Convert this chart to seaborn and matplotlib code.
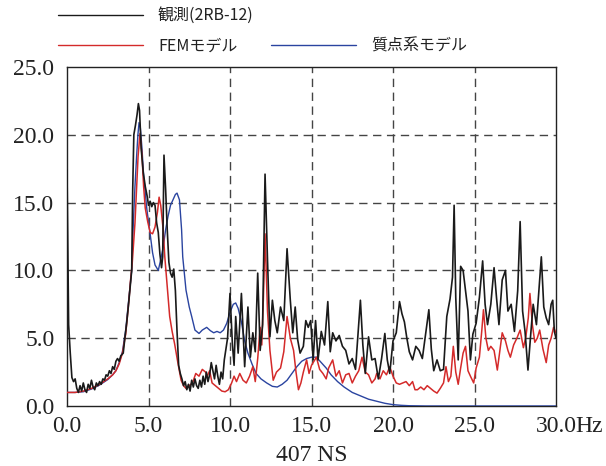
import matplotlib
matplotlib.use("Agg")
import matplotlib.pyplot as plt
from matplotlib.lines import Line2D
import seaborn as sns
import pandas as pd

# ---------------- data ----------------
obs_f = [0.0, 0.05, 0.1, 0.2, 0.3, 0.4, 0.5, 0.6, 0.7, 0.8, 0.9, 1.0, 1.1, 1.2, 1.3, 1.4, 1.5, 1.6,
         1.7, 1.8, 1.9, 2.0, 2.1, 2.2, 2.3, 2.4, 2.5, 2.6, 2.7, 2.8, 2.9, 3.0, 3.1, 3.2, 3.3, 3.45,
         3.55, 3.66, 3.76, 3.86, 3.97, 4.03, 4.1, 4.2, 4.3, 4.38, 4.45, 4.55, 4.68, 4.8, 4.93, 5.0,
         5.1, 5.2, 5.3, 5.4, 5.5, 5.6, 5.7, 5.8, 5.87, 5.95, 6.05, 6.15, 6.25, 6.35, 6.45, 6.55,
         6.65, 6.75, 6.85, 6.95, 7.05, 7.15, 7.25, 7.35, 7.45, 7.55, 7.65, 7.75, 7.85, 7.95, 8.05,
         8.15, 8.25, 8.35, 8.45, 8.55, 8.65, 8.75, 8.85, 8.95, 9.05, 9.15, 9.25, 9.35, 9.45, 9.55,
         9.65, 9.75, 9.85, 10.0, 10.15, 10.25, 10.35, 10.5, 10.7, 10.9, 11.1, 11.25, 11.4, 11.55,
         11.7, 11.85, 12.0, 12.15, 12.3, 12.45, 12.6, 12.75, 12.9, 13.1, 13.3, 13.5, 13.7, 13.85,
         14.0, 14.15, 14.3, 14.5, 14.65, 14.8, 14.95, 15.1, 15.25, 15.4, 15.6, 15.8, 16.0, 16.15,
         16.3, 16.5, 16.7, 16.9, 17.1, 17.3, 17.5, 17.7, 18.0, 18.15, 18.3, 18.5, 18.7, 18.9, 19.1,
         19.3, 19.5, 19.65, 19.8, 20.0, 20.2, 20.4, 20.55, 20.7, 20.85, 21.0, 21.2, 21.4, 21.6,
         21.8, 22.0, 22.2, 22.35, 22.5, 22.7, 22.9, 23.1, 23.3, 23.5, 23.65, 23.75, 23.85, 24.0,
         24.15, 24.3, 24.45, 24.6, 24.75, 24.9, 25.1, 25.3, 25.5, 25.65, 25.8, 26.0, 26.2, 26.35,
         26.5, 26.7, 26.9, 27.05, 27.25, 27.45, 27.65, 27.8, 27.95, 28.1, 28.28, 28.45, 28.6, 28.8,
         28.95, 29.1, 29.25, 29.4, 29.55, 29.7, 29.8, 29.9, 30.0]
obs_v = [17.4, 12.0, 6.0, 3.9, 2.1, 1.8, 2.0, 1.3, 1.0, 1.5, 1.1, 1.7, 1.2, 1.0, 1.6, 1.3, 1.9, 1.4,
         1.2, 1.7, 1.5, 1.8, 1.6, 2.0, 1.9, 2.3, 2.2, 2.6, 2.4, 2.9, 2.7, 3.3, 3.5, 3.3, 3.7, 3.9,
         5.0, 6.1, 7.3, 8.6, 10.0, 15.9, 20.0, 20.7, 21.5, 22.3, 21.8, 19.0, 17.2, 16.2, 15.4, 14.8,
         15.1, 14.7, 15.0, 14.8, 13.5, 12.8, 11.2, 10.2, 11.0, 18.5, 16.0, 13.0, 10.6, 9.8, 9.5, 10.1,
         8.5, 5.5, 3.0, 2.4, 2.0, 1.5, 1.8, 1.2, 1.6, 1.1, 1.9, 1.4, 2.0, 1.5, 1.3,
         1.9, 1.4, 2.2, 1.6, 2.5, 1.8, 2.3, 3.2, 2.6, 2.0, 3.0, 2.2, 1.6, 2.5, 2.0,
         3.4, 4.2, 5.0, 8.3, 4.5, 3.0, 6.6, 3.9, 8.3, 2.9, 7.3, 3.6, 5.4, 4.0,
         9.8, 4.1, 6.0, 17.1, 10.8, 5.1, 7.8, 6.3, 5.4, 7.3, 6.3, 11.6, 7.8, 5.4,
         7.3, 4.9, 3.9, 4.4, 6.3, 5.8, 6.3, 3.4, 6.3, 3.4, 5.5, 4.5, 7.7, 4.0,
         5.4, 4.8, 5.2, 4.4, 4.1, 3.1, 3.5, 2.7, 7.8, 4.5, 2.4, 5.1, 3.4, 3.5, 2.0,
         3.5, 5.35, 3.4, 2.4, 4.8, 5.4, 7.7, 6.8, 6.2, 5.0, 4.0, 3.4, 4.4, 4.1,
         3.5, 5.3, 7.1, 4.2, 2.6, 3.4, 2.6, 2.7, 6.6, 7.9, 9.5, 14.8, 8.0, 3.4,
         10.3, 10.0, 8.5, 7.0, 3.4, 5.3, 6.1, 8.0, 10.7, 7.5, 6.0, 7.5, 10.2, 8.0,
         6.0, 9.3, 10.0, 7.0, 7.5, 5.5, 8.5, 13.6, 7.0, 5.5, 2.65, 5.3, 7.5, 6.0,
         8.5, 11.0, 7.3, 6.5, 6.0, 7.5, 7.8, 5.5, 5.0]

fem_f = [0.0, 0.5, 1.0, 1.5, 2.0, 2.5, 2.8, 3.0, 3.2, 3.4, 3.6, 3.8, 3.9, 4.0, 4.17, 4.36, 4.48,
         4.6, 4.7, 4.8, 4.95, 5.1, 5.25, 5.4, 5.55, 5.65, 5.75, 5.9, 6.0, 6.1, 6.3, 6.45, 6.6, 6.8,
         7.0, 7.15, 7.3, 7.5, 7.7, 7.9, 8.1, 8.3, 8.5, 8.6, 8.75, 8.9, 9.1, 9.3, 9.5, 9.7, 9.9,
         10.1, 10.25, 10.4, 10.6, 10.8, 11.0, 11.2, 11.4, 11.55, 11.7, 11.85, 11.95, 12.05, 12.15,
         12.3, 12.45, 12.65, 12.85, 13.1, 13.3, 13.5, 13.7, 13.9, 14.05, 14.2, 14.35, 14.5, 14.7,
         14.85, 15.0, 15.3, 15.5, 15.7, 15.9, 16.05, 16.3, 16.5, 16.7, 16.9, 17.1, 17.3, 17.5,
         17.7, 17.9, 18.1, 18.3, 18.5, 18.7, 18.9, 19.0, 19.2, 19.4, 19.6, 19.8, 20.0, 20.2, 20.4,
         20.6, 20.8, 21.0, 21.2, 21.35, 21.5, 21.7, 21.9, 22.1, 22.3, 22.5, 22.7, 22.9, 23.1,
         23.25, 23.4, 23.55, 23.7, 23.85, 24.0, 24.15, 24.3, 24.45, 24.6, 24.75, 24.95, 25.1,
         25.3, 25.45, 25.55, 25.7, 25.85, 26.0, 26.2, 26.4, 26.55, 26.7, 26.9, 27.05, 27.2, 27.4,
         27.6, 27.8, 28.0, 28.15, 28.3, 28.4, 28.55, 28.7, 28.85, 29.0, 29.2, 29.4, 29.55, 29.7,
         29.85, 30.0]
fem_v = [1.0, 1.0, 1.1, 1.3, 1.6, 2.0, 2.3, 2.6, 3.1, 3.9, 5.3, 7.8, 9.3, 10.5, 13.5, 18.4, 20.1,
         18.5, 16.2, 14.6, 13.6, 12.8, 12.7, 13.2, 14.3, 15.4, 14.8, 13.0, 11.0, 9.5, 6.6, 5.5, 4.6, 3.2,
         1.9, 1.5, 1.3, 1.5, 1.7, 2.4, 2.2, 2.7, 2.5, 2.2, 2.6, 1.7, 1.5, 1.3, 1.1, 1.05, 1.2,
         1.7, 2.2, 1.8, 2.4, 1.9, 1.7, 2.2, 2.9, 1.8, 3.5, 5.8, 4.5, 8.0, 12.7,
         7.0, 4.1, 1.9, 2.5, 2.8, 4.0, 6.6, 5.0, 4.1, 2.5, 1.2, 1.7, 2.5, 3.4,
         2.4, 3.0, 3.6, 2.7, 2.4, 2.0, 2.8, 3.4, 2.2, 2.6, 1.7, 2.3, 2.4, 1.7,
         2.2, 2.6, 3.6, 2.5, 2.3, 1.7, 2.0, 2.4, 2.0, 2.6, 2.3, 2.9, 2.2, 1.7, 1.6,
         1.7, 1.8, 1.5, 1.8, 1.2, 1.2, 1.4, 1.2, 1.5, 1.3, 1.1, 0.95, 1.3, 1.7,
         2.9, 1.8, 2.2, 4.4, 2.5, 1.6, 2.8, 3.9, 4.4, 2.6, 2.2, 1.7, 2.8,
         3.6, 5.6, 7.1, 5.0, 4.1, 4.4, 4.1, 2.65, 4.0, 5.4, 4.8, 4.1, 3.6, 4.5,
         5.0, 5.6, 4.3, 5.1, 6.5, 8.3, 6.0, 4.7, 5.0, 5.6, 4.2, 3.2, 4.5, 5.0,
         5.8, 5.4]

lump_f = [0.0, 0.5, 1.0, 1.5, 2.0, 2.5, 2.8, 3.0, 3.2, 3.4, 3.6, 3.8, 3.97, 4.07, 4.17, 4.27, 4.35,
          4.42, 4.5, 4.6, 4.7, 4.9, 5.1, 5.25, 5.4, 5.6, 5.75, 5.9, 6.05, 6.2, 6.35, 6.5, 6.65,
          6.75, 6.9, 7.03, 7.1, 7.3, 7.5, 7.65, 7.85, 8.1, 8.3, 8.57, 8.8, 9.0, 9.2, 9.4, 9.6,
          9.8, 10.0, 10.2, 10.35, 10.5, 10.7, 10.9, 11.1, 11.35, 11.6, 11.9, 12.25, 12.6, 12.9,
          13.2, 13.5, 13.8, 14.1, 14.4, 14.7, 15.0, 15.3, 15.6, 15.9, 16.2, 16.6, 17.0, 17.5, 18.0,
          18.5, 19.0, 19.5, 20.0, 20.5, 21.0, 22.0, 30.0]
lump_v = [1.0, 1.0, 1.05, 1.25, 1.55, 1.95, 2.3, 2.6, 3.2, 4.0, 5.6, 8.0, 10.0, 13.5, 16.2, 18.4, 20.0,
          20.9, 20.5, 19.0, 17.0, 14.5, 12.7, 11.3, 10.4, 10.0, 10.8, 11.7, 13.0, 14.0, 14.8, 15.2, 15.6,
          15.7, 15.2, 13.0, 11.0, 8.55, 7.3, 6.6, 5.6, 5.35, 5.6, 5.8, 5.55, 5.4, 5.5, 5.4, 5.6,
          6.1, 6.9, 7.5, 7.6, 7.2, 6.2, 4.8, 3.9, 3.1, 2.4, 2.0, 1.7, 1.45, 1.4,
          1.6, 1.9, 2.4, 2.9, 3.3, 3.5, 3.6, 3.6, 3.2, 2.8, 2.3, 1.8, 1.4, 1.0, 0.75,
          0.5, 0.35, 0.2, 0.1, 0.05, 0.02, 0.0, 0.0]

labels = ["観測(2RB-12)", "FEMモデル", "質点系モデル"]
colors = ["#1a1a1a", "#d42a2a", "#2a44a0"]
xticks = [0, 5, 10, 15, 20, 25, 30]
xticklabels = ["0.0", "5.0", "10.0", "15.0", "20.0", "25.0", "30.0"]
yticks = [0, 5, 10, 15, 20, 25]
yticklabels = ["0.0", "5.0", "10.0", "15.0", "20.0", "25.0"]

# ---------------- plot ----------------
sns.set_style("white")
plt.rcParams["font.family"] = ["Liberation Serif", "DejaVu Serif"]

fig = plt.figure(figsize=(6.06, 4.66), dpi=100)
ax = fig.add_axes([67 / 606, 1 - 406 / 466, (556 - 67) / 606, (406 - 67) / 466])

df_obs = pd.DataFrame({"f": obs_f, "v": obs_v})
df_fem = pd.DataFrame({"f": fem_f, "v": fem_v})
df_lump = pd.DataFrame({"f": lump_f, "v": lump_v})

sns.lineplot(data=df_lump, x="f", y="v", ax=ax, color=colors[2], lw=1.0, zorder=3)
sns.lineplot(data=df_fem, x="f", y="v", ax=ax, color=colors[1], lw=1.1, zorder=4)
sns.lineplot(data=df_obs, x="f", y="v", ax=ax, color=colors[0], lw=1.2, zorder=5)

ax.set_xlim(0, 30)
ax.set_ylim(0, 25)
ax.set_xticks(xticks)
ax.set_xticklabels(xticklabels)
ax.set_yticks(yticks)
ax.set_yticklabels(yticklabels)
ax.tick_params(axis="both", length=0, labelsize=17, colors="#222222")
ax.tick_params(axis="x", pad=7)
ax.tick_params(axis="y", pad=9)

for xv in xticks[1:-1]:
    ax.axvline(xv, color="#444444", lw=1.0, ls=(0, (6, 4)), zorder=1)
for yv in yticks[1:-1]:
    ax.axhline(yv, color="#444444", lw=1.0, ls=(0, (6, 4)), zorder=1)

for s in ax.spines.values():
    s.set_visible(True)
    s.set_color("#222222")
    s.set_linewidth(1.0)

ax.set_xlabel("407 NS", fontsize=17, labelpad=6, color="#222222")
ax.set_ylabel("")

ax.annotate("Hz", xy=(1, 0), xycoords="axes fraction", xytext=(19, -9.7),
            textcoords="offset pixels", ha="left", va="top", fontsize=17, color="#222222")

handles = [Line2D([], [], color=colors[0], lw=1.0),
           Line2D([], [], color=colors[1], lw=1.0),
           Line2D([], [], color="none", lw=0),
           Line2D([], [], color=colors[2], lw=1.0)]
leg_labels = [labels[0], labels[1], "", labels[2]]
leg = fig.legend(handles, leg_labels, ncol=2, loc="upper left",
                 bbox_to_anchor=(55 / 606, 1 - 4 / 466), frameon=False,
                 prop={"family": ["Noto Sans CJK JP", "DejaVu Sans"], "size": 11.5},
                 handlelength=5.3, handletextpad=0.95, columnspacing=1.1,
                 labelspacing=0.85, borderaxespad=0, borderpad=0.2,
                 labelcolor="#222222")

fig.savefig("out.png", dpi=100)
